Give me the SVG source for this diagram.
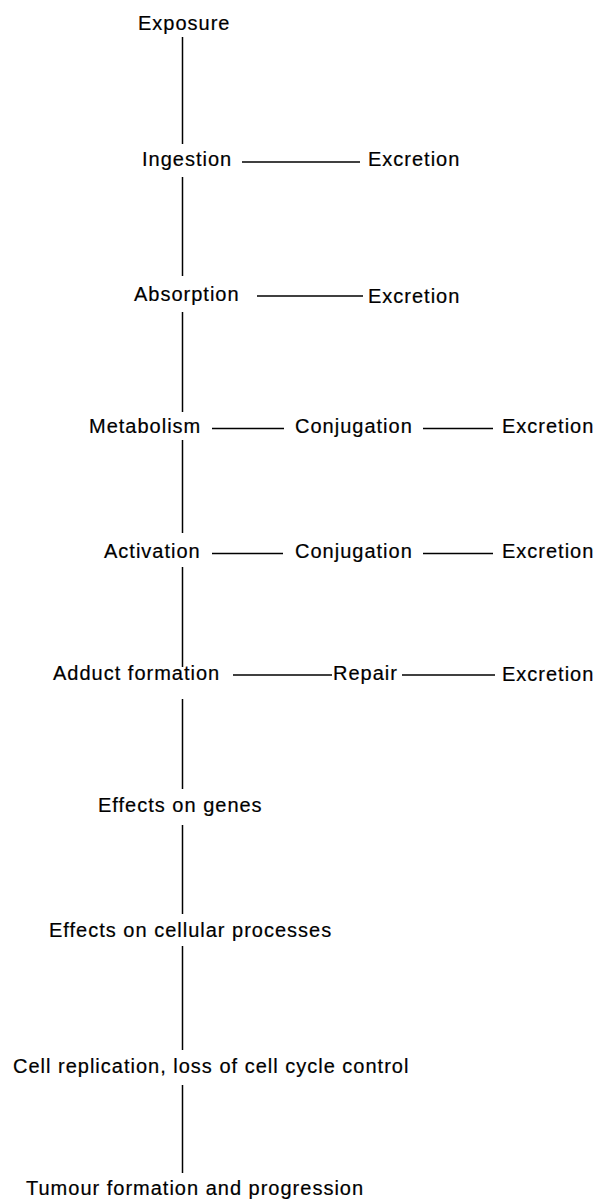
<svg xmlns="http://www.w3.org/2000/svg" width="598" height="1200" viewBox="0 0 598 1200">
<style>
  text { font-family: "Liberation Sans", Arial, Helvetica, sans-serif; font-size: 20px; letter-spacing: 1px; fill: #000; stroke: #000; stroke-width: 0.2px; }
  .c line { stroke: #000; stroke-width: 1.5; fill: none; }
</style>
<rect width="598" height="1200" fill="#fff"/>
<g id="connectors" class="c">
  <line x1="182.5" y1="37" x2="182.5" y2="144"/>
  <line x1="182.5" y1="177" x2="182.5" y2="276"/>
  <line x1="182.5" y1="312" x2="182.5" y2="412"/>
  <line x1="182.5" y1="440" x2="182.5" y2="533"/>
  <line x1="182.5" y1="567" x2="182.5" y2="667"/>
  <line x1="182.5" y1="699" x2="182.5" y2="789"/>
  <line x1="182.5" y1="825" x2="182.5" y2="914"/>
  <line x1="182.5" y1="946" x2="182.5" y2="1050"/>
  <line x1="182.5" y1="1085" x2="182.5" y2="1173"/>
  <line x1="242" y1="162" x2="360" y2="162"/>
  <line x1="257" y1="296" x2="363" y2="296"/>
  <line x1="212" y1="428.5" x2="284" y2="428.5"/>
  <line x1="423" y1="428.5" x2="493" y2="428.5"/>
  <line x1="212" y1="553.5" x2="283" y2="553.5"/>
  <line x1="423" y1="553.5" x2="493" y2="553.5"/>
  <line x1="233" y1="675" x2="332" y2="675"/>
  <line x1="402" y1="675" x2="495" y2="675"/>
</g>
<g id="exposure"><text x="138" y="30">Exposure</text></g>
<g id="ingestion"><text x="142" y="166">Ingestion</text></g>
<g id="excretion1"><text x="368" y="166">Excretion</text></g>
<g id="absorption"><text x="134" y="301">Absorption</text></g>
<g id="excretion2"><text x="368" y="303">Excretion</text></g>
<g id="metabolism"><text x="89" y="433">Metabolism</text></g>
<g id="conjugation1"><text x="295" y="433">Conjugation</text></g>
<g id="excretion3"><text x="502" y="433">Excretion</text></g>
<g id="activation"><text x="104" y="558">Activation</text></g>
<g id="conjugation2"><text x="295" y="558">Conjugation</text></g>
<g id="excretion4"><text x="502" y="558">Excretion</text></g>
<g id="adduct"><text x="53" y="680">Adduct formation</text></g>
<g id="repair"><text x="333" y="680">Repair</text></g>
<g id="excretion5"><text x="502" y="681">Excretion</text></g>
<g id="genes"><text x="98" y="812">Effects on genes</text></g>
<g id="cellular"><text x="49" y="937">Effects on cellular processes</text></g>
<g id="replication"><text x="13" y="1073">Cell replication, loss of cell cycle control</text></g>
<g id="tumour"><text x="26" y="1195">Tumour formation and progression</text></g>
</svg>
